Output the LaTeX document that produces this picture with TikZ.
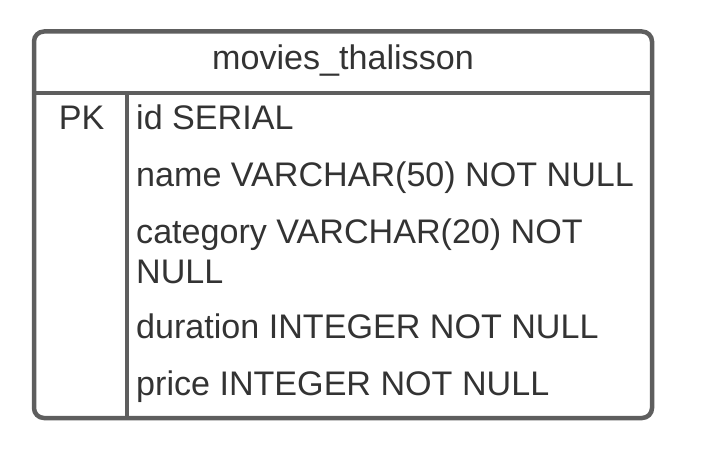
\documentclass[tikz,border=0pt]{standalone}
\usepackage{fontspec}
\setmainfont{Liberation Sans}
\definecolor{linegray}{HTML}{5E5E5E}
\definecolor{txt}{HTML}{333333}
\tikzset{
  tbl/.style={draw=linegray, line width=4.5pt},
  fld/.style={anchor=base west, inner sep=0pt, text=txt, font=\fontsize{34.1pt}{40pt}\selectfont},
  hdr/.style={anchor=base, inner sep=0pt, text=txt, font=\fontsize{34.1pt}{40pt}\selectfont}
}
\begin{document}
\begin{tikzpicture}[x=1pt,y=1pt]
\useasboundingbox (0,0) rectangle (703,-473);
\draw[tbl, rounded corners=10pt] (34,-31.5) rectangle (652,-418);
\draw[tbl] (34,-93) -- (652,-93);
\draw[tbl] (127,-93) -- (127,-418);
\node[hdr] (title) at (343,-69.5) {movies\_thalisson};
\node[hdr] (pk) at (81.5,-129.5) {PK};
\node[fld] (f1) at (136,-129.5) {id SERIAL};
\node[fld] (f2) at (136,-186.5) {name VARCHAR(50) NOT NULL};
\node[fld] (f3) at (136,-243) {category VARCHAR(20) NOT};
\node[fld] (f3b) at (136,-283) {NULL};
\node[fld] (f4) at (136,-338.5) {duration INTEGER NOT NULL};
\node[fld] (f5) at (136,-395) {price INTEGER NOT NULL};
\end{tikzpicture}
\end{document}
